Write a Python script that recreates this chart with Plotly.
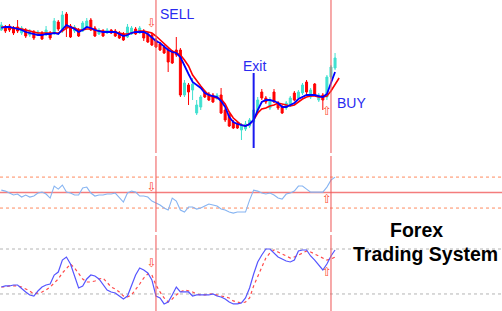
import plotly.graph_objects as go

# ---------------- data ----------------
bars = list(range(83))

open_ = [130,133,134,132,133,127,130,125,128,125,
         127,125,127,126,138,129,146,134,129,130,
         129,133,140,132,126,129,127,130,129,127,
         126,123,126,131,127,129,126,125,120,116,
         113,110,108,110,110,65,75,70,47,53,
         68,66,65,62,65,50,45,38,37,30,
         31,34,38,48,68,62,52,68,57,53,
         52,55,67,62,67,78,63,76,60,65,
         63,83,92]
high = [138,135,136,134,140,134,132,131,130,130,
        129,134,129,142,140,149,148,136,135,132,
        139,142,142,134,132,131,132,131,131,129,
        128,136,134,133,134,131,128,127,122,118,
        115,112,110,123,112,80,77,82,60,65,
        70,68,67,67,72,52,47,40,39,37,
        39,42,52,63,71,64,63,71,59,55,
        59,64,69,70,77,80,72,77,67,67,
        85,95,107]
low = [129,127,128,125,127,125,122,123,120,124,
       120,124,120,125,129,127,123,122,127,123,
       128,132,129,123,125,123,126,126,123,121,
       119,122,125,125,126,119,117,114,112,109,
       106,88,96,103,63,63,55,60,45,50,
       62,59,57,60,46,38,33,31,31,20,
       29,32,36,46,60,56,50,57,50,46,
       50,53,59,60,65,66,61,64,58,50,
       60,81,90]
close = [135,129,130,127,129,132,124,129,122,128,
         121,130,122,139,131,145,132,123,133,124,
         137,139,130,124,130,124,130,127,124,122,
         120,133,132,126,132,122,118,115,113,110,
         107,98,97,105,65,77,68,76,55,63,
         63,60,58,65,47,40,34,32,32,35,
         36,40,50,60,62,58,60,58,52,47,
         57,62,60,68,75,68,70,65,65,60,
         83,93,102]

ma_fast = [132,133,133,132,131,130,128,127,126,125,
           125,126,126,127,126,130,135,133,131,128,
           130,133,132,130,129,128,128,128,128,126,
           124,125,127,128,128,128,126,122,119,117,
           113,110,108,107,103,94,86,78,75,72,
           67,65,64,63,59,53,43,38,36,35,
           34,36,40,50,58,60,60,59,57,53,
           53,55,57,61,63,65,65,65,64,63,
           66,78,88]
ma_slow = [133,133,132,132,132,131,130,129,128,127,
           127,127,127,127,127,129,132,133,132,130,
           130,131,131,130,129,129,128,128,128,127,
           126,126,127,128,129,129,128,127,124,120,
           116,112,109,107,105,100,94,85,79,74,
           69,65,63,62,61,56,48,42,38,35,
           34,36,40,47,51,52,54,55,57,56,
           55,54,55,58,61,63,64,64,63,63,
           64,69,75,82]

rsi = [53.2,51.9,49.4,46.8,48.1,44.2,46.8,44.2,45.5,49.4,
       50.6,48.1,42.9,58.4,54.5,59.7,50.6,49.4,46.8,46.8,
       55.8,57.1,49.4,45.5,46.8,46.8,48.1,48.1,49.4,44.2,
       37.7,49.4,51.9,50.6,45.5,45.5,44.2,39.0,36.5,33.9,
       30.0,27.4,42.9,39.0,27.4,24.8,31.3,31.3,28.7,30.0,
       32.6,35.2,33.9,32.6,28.7,27.4,24.8,23.5,24.8,24.8,
       24.8,40.3,53.2,51.9,49.4,48.1,49.4,46.8,42.9,41.6,
       48.1,49.4,51.9,58.4,58.4,54.5,50.6,50.6,50.6,50.6,
       57.1,66.1,70.0]
rsi_levels = [70, 50, 30]

stoch_k = [29.3,30.7,30.7,32.0,32.0,26.7,22.7,18.7,17.3,24.0,
           29.3,32.0,33.3,45.3,49.3,65.3,69.3,60.0,44.0,28.0,
           30.7,40.0,45.3,44.0,40.0,32.0,25.3,22.7,21.3,17.3,
           13.3,17.3,32.0,45.3,54.7,52.0,48.0,38.7,17.3,14.7,
           6.7,9.3,18.7,29.3,22.7,22.7,22.7,17.3,18.7,18.7,
           18.7,18.7,20.0,17.3,16.0,13.3,9.3,6.7,6.7,8.0,
           14.7,28.0,46.7,62.7,72.0,80.0,80.0,74.7,69.3,66.7,
           64.0,62.7,65.3,77.3,78.7,78.7,70.7,65.3,58.7,52.0,
           60.0,70.7,78.7]
stoch_d = [29.3,29.3,30.7,30.7,30.7,29.3,26.7,24.0,20.0,21.3,
           22.7,25.3,29.3,34.7,40.0,48.0,54.7,60.0,54.7,46.7,
           40.0,36.0,36.0,37.3,40.0,41.3,34.7,29.3,26.7,22.7,
           17.3,16.0,18.7,25.3,33.3,41.3,46.7,45.3,32.0,22.7,
           14.7,9.3,13.3,18.7,22.7,25.3,24.0,22.7,20.0,18.7,
           18.7,20.0,20.0,18.7,17.3,16.0,14.7,10.7,9.3,8.0,
           9.3,14.7,30.7,44.0,54.7,68.0,74.7,78.7,76.0,73.3,
           70.7,68.0,69.3,72.0,74.7,77.3,76.0,73.3,70.7,68.0,
           65.3,66.7,69.3]
stoch_levels = [80, 20]

sell_bar = 38
buy_bar = 81
exit_bar = 62
exit_span = [12, 87]

sell_marks = {"bar": 37, "price": 136, "rsi": 55.8, "stoch": 60.0}
buy_marks = {"bar": 80, "price": 48, "rsi": 40.3, "stoch": 48.0}

# ---------------- figure ----------------
BULL = "#40E0D0"
BEAR = "#FF0000"
FONT = "Arial, Liberation Sans, sans-serif"

fig = go.Figure()

fig.add_trace(go.Candlestick(
    x=bars, open=open_, high=high, low=low, close=close,
    xaxis="x", yaxis="y",
    increasing=dict(line=dict(color=BULL, width=1), fillcolor=BULL),
    decreasing=dict(line=dict(color=BEAR, width=1), fillcolor=BEAR),
    showlegend=False, hoverinfo="skip"))

fig.add_trace(go.Scatter(x=list(range(len(ma_slow))), y=ma_slow, mode="lines",
                         line=dict(color="#FF0000", width=1.6), xaxis="x", yaxis="y",
                         showlegend=False, hoverinfo="skip"))
fig.add_trace(go.Scatter(x=bars, y=ma_fast, mode="lines",
                         line=dict(color="#0000FF", width=1.8), xaxis="x", yaxis="y",
                         showlegend=False, hoverinfo="skip"))

fig.add_trace(go.Scatter(x=bars, y=rsi, mode="lines",
                         line=dict(color="#86B4F2", width=1.1), xaxis="x", yaxis="y2",
                         showlegend=False, hoverinfo="skip"))

fig.add_trace(go.Scatter(x=bars, y=stoch_d, mode="lines",
                         line=dict(color="#FF4A4A", width=1.2, dash="dot"), xaxis="x", yaxis="y3",
                         showlegend=False, hoverinfo="skip"))
fig.add_trace(go.Scatter(x=bars, y=stoch_k, mode="lines",
                         line=dict(color="#5555FF", width=1.2), xaxis="x", yaxis="y3",
                         showlegend=False, hoverinfo="skip"))

# signal arrows
for marks, sym in [(sell_marks, "⇩"), (buy_marks, "⇧")]:
    for key, ax in [("price", "y"), ("rsi", "y2"), ("stoch", "y3")]:
        fig.add_trace(go.Scatter(x=[marks["bar"]], y=[marks[key]], mode="text", text=[sym],
                                 textfont=dict(color="#FF4A30", size=12, family="DejaVu Sans"),
                                 xaxis="x", yaxis=ax, showlegend=False, hoverinfo="skip"))

shapes = []
# vertical signal lines
for b in [sell_bar, buy_bar]:
    for yr in ["y domain", "y2 domain", "y3 domain"]:
        shapes.append(dict(type="line", xref="x", yref=yr, x0=b, x1=b, y0=0, y1=1,
                           line=dict(color="rgba(240,90,90,0.65)", width=1.6), layer="above"))
# exit line
shapes.append(dict(type="line", xref="x", yref="y", x0=exit_bar, x1=exit_bar,
                   y0=exit_span[0], y1=exit_span[1],
                   line=dict(color="#1A1AF0", width=2), layer="above"))
# RSI levels
for lv in rsi_levels:
    if lv == 50:
        ln = dict(color="rgba(240,80,80,0.75)", width=1.6)
    else:
        ln = dict(color="#FF8A60", width=1, dash="dot")
    shapes.append(dict(type="line", xref="paper", yref="y2", x0=0, x1=1, y0=lv, y1=lv,
                       line=ln, layer="below"))
# Stochastic levels
for lv in stoch_levels:
    shapes.append(dict(type="line", xref="paper", yref="y3", x0=0, x1=1, y0=lv, y1=lv,
                       line=dict(color="#B4B4B4", width=1, dash="dot"), layer="below"))

annotations = [
    dict(text="SELL", xref="x", yref="y", x=38.4, y=146, xanchor="left", yanchor="middle",
         showarrow=False, font=dict(family=FONT, size=14, color="#2A2AF0")),
    dict(text="Exit", xref="x", yref="y", x=62.2, y=94.5, xanchor="center", yanchor="middle",
         showarrow=False, font=dict(family=FONT, size=14, color="#2A2AF0")),
    dict(text="BUY", xref="x", yref="y", x=82.0, y=57, xanchor="left", yanchor="middle",
         showarrow=False, font=dict(family=FONT, size=14, color="#2A2AF0")),
    dict(text="<b>Forex</b>", xref="paper", yref="paper", x=0.829, y=0.262,
         xanchor="center", yanchor="middle", showarrow=False,
         font=dict(family=FONT, size=19.5, color="#000000")),
    dict(text="<b>Trading System</b>", xref="paper", yref="paper", x=0.847, y=0.183,
         xanchor="center", yanchor="middle", showarrow=False,
         font=dict(family=FONT, size=19.5, color="#000000")),
]

hidden = dict(visible=False, showgrid=False, zeroline=False, fixedrange=True)

fig.update_layout(
    width=502, height=311,
    margin=dict(l=0, r=0, t=0, b=0),
    paper_bgcolor="white", plot_bgcolor="white",
    showlegend=False,
    xaxis=dict(range=[-0.32, 123.02], rangeslider=dict(visible=False), **hidden),
    yaxis=dict(domain=[0.508, 1.0], range=[7, 160], **hidden),
    yaxis2=dict(domain=[0.254, 0.498], range=[-0.96, 97.1], **hidden),
    yaxis3=dict(domain=[0.0, 0.2444], range=[-2.7, 98.7], **hidden),
    shapes=shapes,
    annotations=annotations,
)

fig.write_html("out.html")
